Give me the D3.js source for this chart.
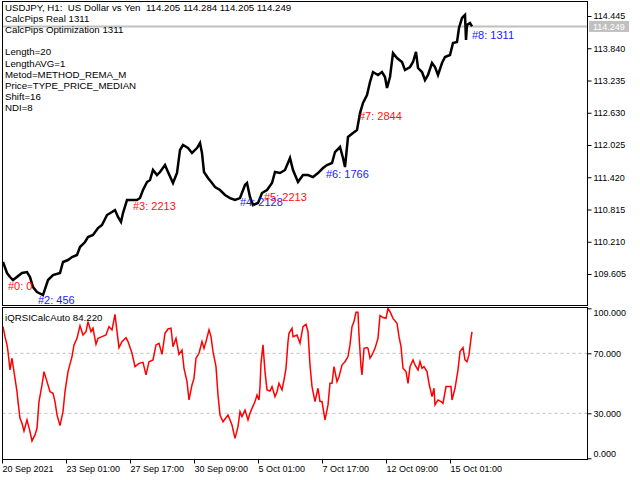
<!DOCTYPE html>
<html>
<head>
<meta charset="utf-8">
<script src="https://cdn.jsdelivr.net/npm/d3@7"></script>
<style>
    body { margin: 0; background: #fff; }
    svg { display: block; }
    text { font-family: "Liberation Sans", Arial, sans-serif; }
</style>
</head>
<body>
<div id="chart-area"></div>
<script>
// USDJPY H1 price (bar number, price)
const priceBars = [1, 5, 8, 11, 20, 25, 28, 31, 35, 41, 46, 51, 58, 61, 66, 70, 75, 78, 83, 86,
    91, 96, 100, 105, 110, 113, 116, 119, 121, 125, 130, 135, 138, 141, 145, 148, 151, 155, 158, 163,
    166, 171, 175, 178, 181, 186, 190, 195, 198, 200, 202, 206, 210, 213, 218, 223, 228, 233, 238, 243,
    245, 248, 251, 256, 260, 265, 270, 273, 278, 283, 288, 291, 296, 301, 306, 311, 316, 321, 325, 330,
    333, 338, 341, 343, 346, 351, 355, 358, 361, 365, 368, 371, 376, 380, 383, 385, 388, 391, 395, 400,
    403, 408, 411, 414, 416, 420, 423, 426, 430, 433, 436, 440, 443, 448, 451, 455, 457, 460, 463, 464,
    465, 468, 470];
const priceValues = [109.830, 109.623, 109.548, 109.492, 109.623, 109.642, 109.548, 109.360, 109.267, 109.210,
    109.492, 109.586, 109.623, 109.830, 109.867, 109.923, 109.961, 110.111, 110.205, 110.299,
    110.336, 110.467, 110.524, 110.711, 110.768, 110.805, 110.674, 110.580, 110.749, 110.993,
    110.993, 110.993, 111.030, 111.180, 111.331, 111.368, 111.556, 111.462, 111.518, 111.649,
    111.518, 111.312, 111.499, 111.931, 112.025, 111.968, 111.875, 111.968, 112.062, 111.875,
    111.518, 111.406, 111.312, 111.237, 111.180, 111.087, 111.030, 110.993, 111.030, 111.274,
    111.312, 111.049, 110.899, 110.937, 111.124, 111.180, 111.312, 111.518, 111.499, 111.556,
    111.781, 111.556, 111.331, 111.462, 111.462, 111.424, 111.499, 111.593, 111.649, 111.687,
    111.893, 111.987, 111.781, 111.612, 112.175, 112.250, 112.306, 112.625, 112.813, 112.963,
    113.207, 113.394, 113.338, 113.394, 113.301, 113.094, 113.301, 113.751, 113.657, 113.582,
    113.432, 113.488, 113.582, 113.770, 113.469, 113.394, 113.244, 113.338, 113.563, 113.488,
    113.338, 113.563, 113.676, 113.713, 113.938, 113.957, 114.220, 114.407, 114.464, 113.995,
    114.276, 114.314, 114.249];

// iQRSICalcAuto indicator (bar number, value)
const rsiBars = [1, 3, 5, 6, 8, 10, 11, 13, 15, 16, 18, 20, 22, 25, 28, 30, 33, 35, 37, 40,
    42, 45, 48, 51, 53, 55, 58, 61, 63, 66, 70, 72, 75, 78, 81, 84, 86, 89, 91, 94,
    96, 100, 104, 107, 110, 113, 115, 117, 120, 124, 126, 130, 133, 137, 141, 144, 147, 151, 154, 157,
    160, 163, 166, 169, 171, 174, 177, 180, 182, 185, 187, 190, 192, 194, 197, 200, 202, 204, 207, 209,
    211, 214, 216, 218, 221, 226, 230, 233, 236, 238, 240, 243, 246, 248, 250, 253, 255, 257, 258, 259,
    261, 263, 265, 268, 270, 273, 275, 277, 280, 282, 284, 286, 287, 290, 291, 295, 298, 301, 304, 306,
    308, 310, 313, 316, 318, 320, 323, 326, 328, 330, 332, 335, 337, 340, 343, 346, 348, 350, 352, 354,
    356, 357, 359, 360, 362, 365, 366, 368, 370, 373, 376, 378, 381, 384, 386, 388, 391, 395, 397, 399,
    401, 404, 406, 408, 411, 413, 416, 418, 420, 422, 425, 427, 430, 432, 433, 436, 439, 441, 444, 446,
    449, 450, 453, 456, 458, 461, 463, 465, 467, 469, 470];
const rsiValues = [87.8, 81.1, 75.6, 71.1, 58.9, 66.7, 62.2, 53.3, 44.4, 37.8, 26.7, 23.3, 18.2, 25.6, 17.8, 11.6, 15.6, 20.0, 37.8, 48.9,
    57.8, 51.1, 44.4, 43.3, 37.8, 28.9, 21.8, 31.1, 44.4, 57.8, 67.8, 75.6, 80.0, 88.4, 82.2, 84.4, 91.1, 84.4, 86.7, 76.0,
    80.0, 81.1, 82.2, 87.8, 85.6, 96.0, 84.4, 73.8, 77.8, 80.4, 77.8, 70.0, 61.1, 63.3, 64.0, 55.6, 64.4, 65.6, 75.6, 76.7,
    69.3, 83.3, 86.2, 86.7, 74.4, 80.0, 69.3, 72.2, 60.0, 51.1, 38.9, 48.9, 53.3, 66.7, 70.0, 77.8, 73.3, 77.8, 85.6, 81.1,
    71.1, 61.1, 42.2, 28.9, 24.4, 28.9, 22.2, 13.3, 21.1, 31.1, 27.8, 32.2, 25.6, 30.0, 33.3, 37.8, 42.2, 38.9, 47.8, 63.3,
    75.6, 57.8, 45.6, 44.9, 47.8, 41.1, 44.4, 50.0, 45.6, 52.2, 60.0, 77.8, 83.3, 86.7, 81.1, 82.2, 76.7, 87.8, 89.3, 84.4,
    62.2, 47.8, 37.8, 46.7, 37.8, 37.8, 25.6, 35.6, 50.0, 50.0, 61.1, 51.1, 54.4, 62.2, 64.4, 67.8, 75.6, 87.8, 91.1, 97.3,
    97.3, 82.2, 61.1, 55.6, 73.3, 73.8, 73.3, 66.7, 68.9, 73.3, 80.0, 95.1, 93.8, 93.3, 100.0, 97.8, 93.3, 90.0, 81.1, 74.4,
    60.0, 57.8, 50.0, 61.1, 65.6, 62.2, 58.9, 64.4, 60.0, 61.1, 57.8, 50.0, 41.1, 46.7, 35.6, 38.9, 37.8, 36.7, 47.8, 47.8,
    47.8, 38.9, 46.7, 58.9, 71.1, 73.8, 65.6, 64.4, 68.9, 80.0, 84.22];

const priceTicks = [109.605, 110.210, 110.815, 111.420, 112.025, 112.630, 113.235, 113.840, 114.445];
const rsiTicks = [0, 30, 70, 100];
const rsiLevels = [30, 70];
const timeTickBars = [0, 64, 128, 192, 256, 320, 384, 448];
const timeTickLabels = ["20 Sep 2021", "23 Sep 01:00", "27 Sep 17:00", "30 Sep 09:00",
    "5 Oct 01:00", "7 Oct 17:00", "12 Oct 09:00", "15 Oct 01:00"];

// swing labels of CalcPips
const markerTexts = ["#0: 0", "#2: 456", "#3: 2213", "#4: 2128", "#5: 2213", "#6: 1766", "#7: 2844", "#8: 1311"];
const markerBars = [6, 36, 131, 238, 262, 324, 357, 470];
const markerPrices = [109.304, 109.042, 110.805, 110.880, 110.974, 111.406, 112.494, 114.013];
const markerSides = ["up", "down", "up", "down", "up", "down", "up", "down"];

const lastPrice = 114.249;
const lastRsi = 84.220;
const headerLines = ["USDJPY, H1:  US Dollar vs Yen  114.205 114.284 114.205 114.249",
    "CalcPips Real 1311", "CalcPips Optimization 1311", "",
    "Length=20", "LengthAVG=1", "Metod=METHOD_REMA_M", "Price=TYPE_PRICE_MEDIAN", "Shift=16", "NDI=8"];

class TerminalChart {
    constructor(parentelement) {
        this.parentelement = parentelement;
        this.initVis();
    }

    initVis() {
        const vis = this;

        vis.width = 640;
        vis.height = 480;
        vis.left = 2.5;
        vis.right = 587.5;

        vis.svg = d3.select(vis.parentelement)
            .append("svg")
            .attr("width", vis.width)
            .attr("height", vis.height);

        vis.svg.append("rect")
            .attr("width", vis.width)
            .attr("height", vis.height)
            .attr("fill", "#fff");

        vis.x = d3.scaleLinear().domain([0, 585]).range([2, 587]);
        vis.yPrice = d3.scaleLinear().domain([109.605, 114.445]).range([274, 16]);
        vis.yRsi = d3.scaleLinear().domain([0, 100]).range([458.3, 308.3]);

        vis.drawPrice();
        vis.drawRsi();
        vis.drawAxes();
        vis.drawFrames();
    }

    drawPrice() {
        const vis = this;

        // current bid line
        vis.svg.append("line")
            .attr("x1", vis.left).attr("x2", vis.right)
            .attr("y1", vis.yPrice(lastPrice)).attr("y2", vis.yPrice(lastPrice))
            .attr("stroke", "#c0c0c0")
            .attr("stroke-width", 2);

        const line = d3.line()
            .x((d, i) => vis.x(priceBars[i]))
            .y(d => vis.yPrice(d));

        vis.svg.append("path")
            .attr("d", line(priceValues))
            .attr("fill", "none")
            .attr("stroke", "#000")
            .attr("stroke-width", 2.5)
            .attr("stroke-linejoin", "miter");

        vis.svg.selectAll(".marker")
            .data(markerTexts)
            .join("text")
            .attr("class", "marker")
            .attr("x", (d, i) => vis.x(markerBars[i]))
            .attr("y", (d, i) => vis.yPrice(markerPrices[i]))
            .attr("font-size", 11)
            .attr("fill", (d, i) => markerSides[i] === "up" ? "#ff1010" : "#1a1aff")
            .text(d => d);

        vis.svg.selectAll(".header")
            .data(headerLines)
            .join("text")
            .attr("class", "header")
            .attr("x", 5)
            .attr("y", (d, i) => 11 + i * 11.1)
            .attr("font-size", 9.7)
            .style("white-space", "pre")
            .text(d => d);
    }

    drawRsi() {
        const vis = this;

        vis.svg.selectAll(".level")
            .data(rsiLevels)
            .join("line")
            .attr("class", "level")
            .attr("x1", vis.left).attr("x2", vis.right)
            .attr("y1", d => vis.yRsi(d)).attr("y2", d => vis.yRsi(d))
            .attr("stroke", "#c0c0c0")
            .attr("stroke-dasharray", "3,3");

        const line = d3.line()
            .x((d, i) => vis.x(rsiBars[i]))
            .y(d => vis.yRsi(d));

        vis.svg.append("path")
            .attr("d", line(rsiValues))
            .attr("fill", "none")
            .attr("stroke", "#ff0000")
            .attr("stroke-width", 1.5);

        vis.svg.append("text")
            .attr("x", 5)
            .attr("y", 321)
            .attr("font-size", 9.7)
            .text("iQRSICalcAuto " + d3.format(".3f")(lastRsi));
    }

    drawAxes() {
        const vis = this;

        const priceAxis = vis.svg.append("g")
            .attr("transform", `translate(${vis.right}, 0)`)
            .call(d3.axisRight(vis.yPrice).tickValues(priceTicks).tickSize(4).tickPadding(2)
                .tickFormat(d3.format(".3f")));

        // bid tag
        const tag = vis.svg.append("g")
            .attr("transform", `translate(${vis.right + 1.5}, ${vis.yPrice(lastPrice)})`);
        tag.append("rect")
            .attr("x", 0).attr("y", -5.5)
            .attr("width", 40).attr("height", 11)
            .attr("fill", "#c0c0c0");
        tag.append("text")
            .attr("x", 4).attr("dy", "0.35em")
            .attr("font-size", 9)
            .attr("fill", "#fff")
            .text(d3.format(".3f")(lastPrice));

        const rsiAxis = vis.svg.append("g")
            .attr("transform", `translate(${vis.right}, 0)`)
            .call(d3.axisRight(vis.yRsi).tickValues(rsiTicks).tickSize(4).tickPadding(2)
                .tickFormat(d3.format(".3f")));
        rsiAxis.selectAll("text")
            .attr("y", d => d === 100 ? 4.5 : d === 0 ? -4.5 : 0);

        const timeAxis = vis.svg.append("g")
            .attr("transform", "translate(0, 459.5)")
            .call(d3.axisBottom(vis.x).tickValues(timeTickBars).tickSize(4).tickPadding(2)
                .tickFormat((d, i) => timeTickLabels[i]));
        timeAxis.selectAll("text").attr("text-anchor", "start");

        [priceAxis, rsiAxis, timeAxis].forEach(g => {
            g.select(".domain").remove();
            g.attr("font-family", null).attr("font-size", 9);
            g.selectAll("text").attr("fill", "#000");
            g.selectAll("line").attr("stroke", "#000");
        });
    }

    drawFrames() {
        const vis = this;

        vis.svg.append("rect")
            .attr("x", vis.left).attr("y", 1.5)
            .attr("width", vis.right - vis.left).attr("height", 304)
            .attr("fill", "none").attr("stroke", "#000");

        vis.svg.append("rect")
            .attr("x", vis.left).attr("y", 307.5)
            .attr("width", vis.right - vis.left).attr("height", 152)
            .attr("fill", "none").attr("stroke", "#000");
    }
}

new TerminalChart("#chart-area");
</script>
</body>
</html>
